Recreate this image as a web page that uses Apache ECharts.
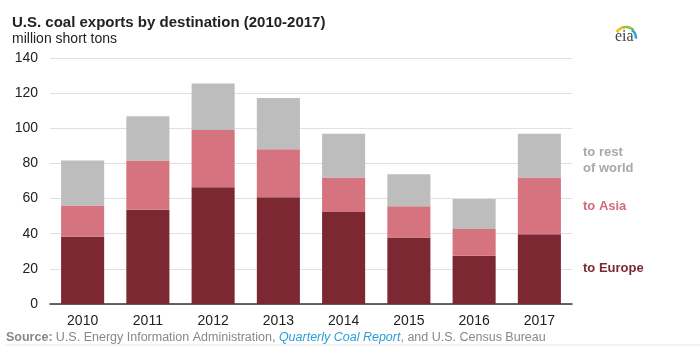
<!DOCTYPE html>
<html><head><meta charset="utf-8">
<script src="https://cdn.jsdelivr.net/npm/echarts@6/dist/echarts.min.js"></script>
<style>html,body{margin:0;padding:0;background:#fff}#c{width:700px;height:353px}</style>
</head><body><div id="c"></div>
<script>
var years = ['2010','2011','2012','2013','2014','2015','2016','2017'];
var toEurope = [38.3, 53.6, 66.5, 60.8, 52.4, 37.8, 27.5, 39.7];
var toAsia = [17.7, 28.1, 32.5, 27.3, 19.6, 17.9, 15.2, 32.3];
var toRest = [25.7, 25.2, 26.5, 29.1, 24.9, 18.2, 17.1, 24.9];
var yTicks = [0, 20, 40, 60, 80, 100, 120, 140];

var chart = echarts.init(document.getElementById('c'), null, {renderer: 'canvas'});
var F = 'Liberation Sans, Arial, sans-serif';
chart.setOption({
  animation: false,
  textStyle: {fontFamily: F},
  grid: {left: 50, right: 128, top: 58, bottom: 49},
  xAxis: {
    type: 'category', data: years,
    axisLine: {lineStyle: {color: '#333', width: 1.5}},
    axisTick: {show: false},
    axisLabel: {color: '#222', fontSize: 14, margin: 10, fontFamily: F}
  },
  yAxis: {
    type: 'value', min: yTicks[0], max: yTicks[yTicks.length - 1], interval: 20,
    axisLine: {show: false}, axisTick: {show: false},
    splitLine: {lineStyle: {color: '#e0e0e0', width: 1}},
    axisLabel: {color: '#222', fontSize: 14, margin: 12, fontFamily: F}
  },
  series: [
    {name: 'to Europe', type: 'bar', stack: 's', data: toEurope, barCategoryGap: '34%', itemStyle: {color: '#7b2832'}},
    {name: 'to Asia', type: 'bar', stack: 's', data: toAsia, itemStyle: {color: '#d5737f'}},
    {name: 'to rest of world', type: 'bar', stack: 's', data: toRest, itemStyle: {color: '#bdbdbd'}}
  ],
  graphic: [
    {type: 'text', left: 12, top: 15, style: {text: 'U.S. coal exports by destination (2010-2017)', font: 'bold 15px ' + F, fill: '#222'}},
    {type: 'text', left: 12, top: 32, style: {text: 'million short tons', font: '14px ' + F, fill: '#222'}},
    {type: 'text', left: 583, top: 144, style: {text: 'to rest\nof world', font: 'bold 13px ' + F, fill: '#a8a8a8', lineHeight: 16}},
    {type: 'text', left: 583, top: 200, style: {text: 'to Asia', font: 'bold 13px ' + F, fill: '#d46a7a'}},
    {type: 'text', left: 583, top: 262, style: {text: 'to Europe', font: 'bold 13px ' + F, fill: '#7b2832'}},
    {type: 'text', left: 6, top: 331, style: {
      text: '{b|Source:} {n|U.S. Energy Information Administration, }{i|Quarterly Coal Report}{n|, and U.S. Census Bureau}',
      rich: {
        b: {font: 'bold 12.5px ' + F, fill: '#888'},
        n: {font: '12.5px ' + F, fill: '#888'},
        i: {font: 'italic 12.5px ' + F, fill: '#2a9fd6'}
      }
    }},
    {type: 'line', shape: {x1: 5, y1: 345, x2: 700, y2: 345}, style: {stroke: '#e6e6e6', lineWidth: 1}},
    {type: 'arc', shape: {cx: 626, cy: 38, r: 11, startAngle: Math.PI * 1.18, endAngle: Math.PI * 1.42}, style: {stroke: '#f2c12e', lineWidth: 3, fill: null}},
    {type: 'arc', shape: {cx: 626, cy: 38, r: 11, startAngle: Math.PI * 1.40, endAngle: Math.PI * 1.74}, style: {stroke: '#8dc63f', lineWidth: 2.5, fill: null}},
    {type: 'arc', shape: {cx: 626, cy: 38, r: 10, startAngle: Math.PI * 1.70, endAngle: Math.PI * 2.02}, style: {stroke: '#29a3dc', lineWidth: 2.5, fill: null}},
    {type: 'text', left: 615, top: 29, style: {text: 'eia', font: '16px Liberation Serif, serif', fill: '#444'}}
  ]
});
</script></body></html>
